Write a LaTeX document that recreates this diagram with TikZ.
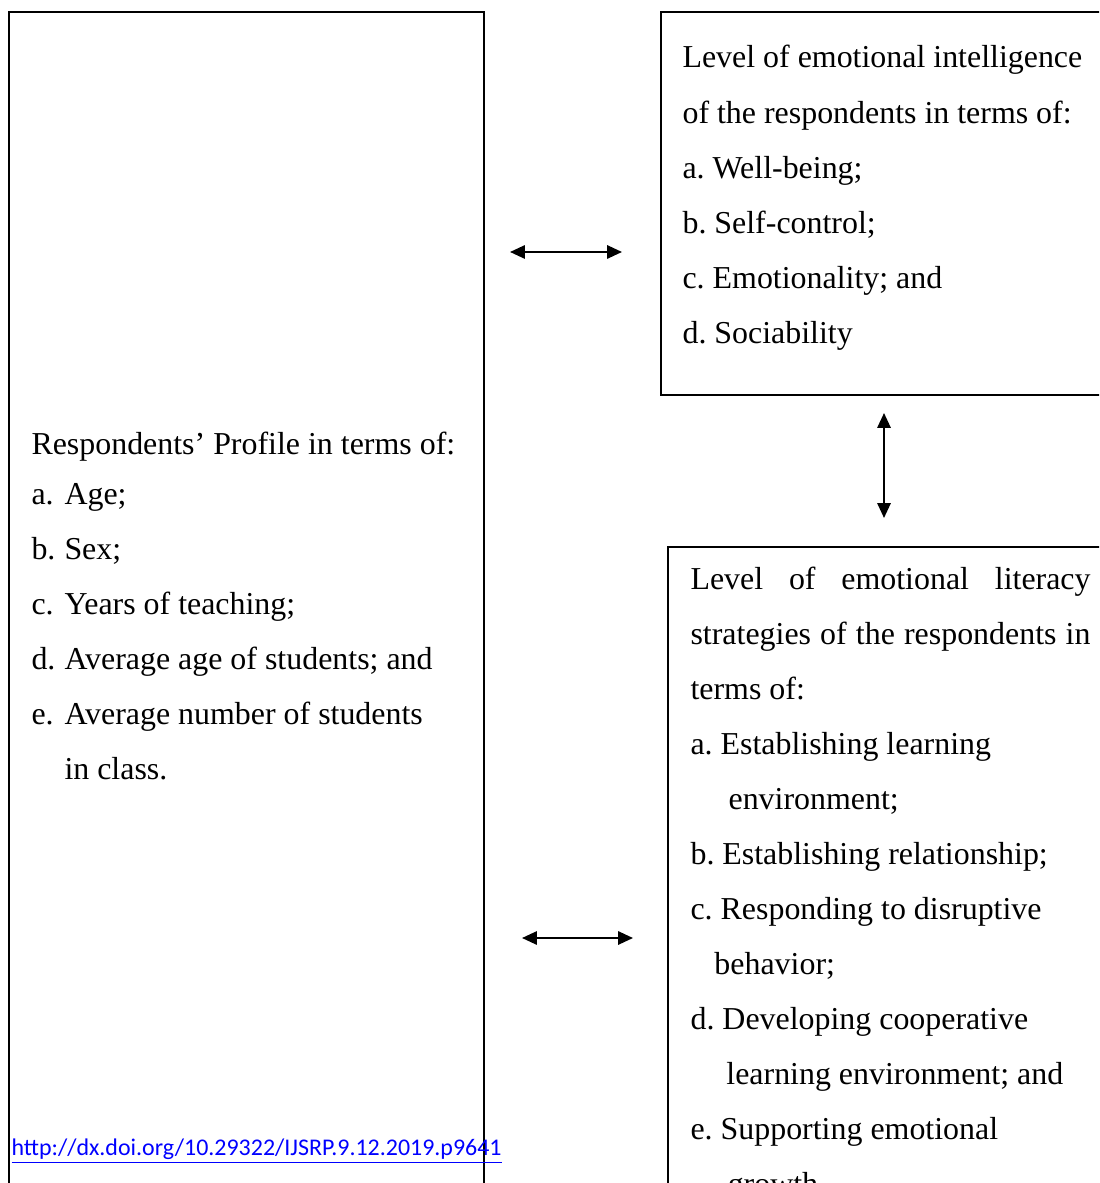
\documentclass[tikz,border=0pt]{standalone}
\usepackage{fontspec}
\setmainfont{Liberation Serif}
\newfontfamily\doifont{Carlito}
\usetikzlibrary{positioning,fit,arrows.meta}
\definecolor{doiblue}{HTML}{0000FF}
\newcommand\itm[1]{\makebox[12.4pt][l]{#1}}
\tikzset{frame/.style={draw,line width=1pt,inner sep=0pt},txt/.style={inner sep=0pt,anchor=north west,align=left,font=\fontsize{12}{20.7}\selectfont\frenchspacing},link/.style={line width=0.75pt,{Triangle[length=5.6pt,width=5pt]}-{Triangle[length=5.6pt,width=5pt]}}}

\begin{document}
\begin{tikzpicture}[x=0.376pt,y=-0.376pt]
\useasboundingbox (0,0) rectangle (1099,1183);
\clip (0,0) rectangle (1099,1183);
% frames
\coordinate (p1) at (9,12);\coordinate (p2) at (484,1300);
\node[frame,fit=(p1)(p2)] (profile) {};
\coordinate (q1) at (661,12);\coordinate (q2) at (1130,395);
\node[frame,fit=(q1)(q2)] (intel) {};
\coordinate (r1) at (668,547);\coordinate (r2) at (1130,1300);
\node[frame,fit=(r1)(r2)] (liter) {};
% texts
\node[txt] (proftitle) at (31,431) {Respondents’ Profile in terms of:};
\node[txt] (proflist) at (31,483) {\itm{a.}Age;\\\itm{b.}Sex;\\\itm{c.}Years of teaching;\\\itm{d.}Average age of students; and\\\itm{e.}Average number of students\\\itm{}in class.};
\node[txt] (inteltext) at (682,45) {Level of emotional intelligence\\of the respondents in terms of:\\a. Well-being;\\b. Self-control;\\c. Emotionality; and\\d. Sociability};
\node[txt,align=flush left,text width=152pt] (litertext) at (690,566) {\makebox[150.4pt][s]{Level of emotional literacy}\\\makebox[150.4pt][s]{strategies of the respondents in}\\terms of:\\a. Establishing learning\\\hspace*{14.3pt}environment;\\b. Establishing relationship;\\c. Responding to disruptive\\\hspace*{9pt}behavior;\\d. Developing cooperative\\\hspace*{13.5pt}learning environment; and\\e. Supporting emotional\\\hspace*{14pt}growth.};
\node[inner sep=0pt,anchor=base west,text=doiblue,font=\doifont\fontsize{9}{11}\selectfont] (doi) at (11,1155) {\underline{http://dx.doi.org/10.29322/IJSRP.9.12.2019.p9641}};
% arrows
\coordinate (a1w) at (510,252);\coordinate (a1e) at (622,252);
\coordinate (a2n) at (884,413);\coordinate (a2s) at (884,518);
\coordinate (a3w) at (522,938);\coordinate (a3e) at (633,938);
\draw[link] (a1w)--(a1e);
\draw[link] (a2n)--(a2s);
\draw[link] (a3w)--(a3e);
\end{tikzpicture}
\end{document}
